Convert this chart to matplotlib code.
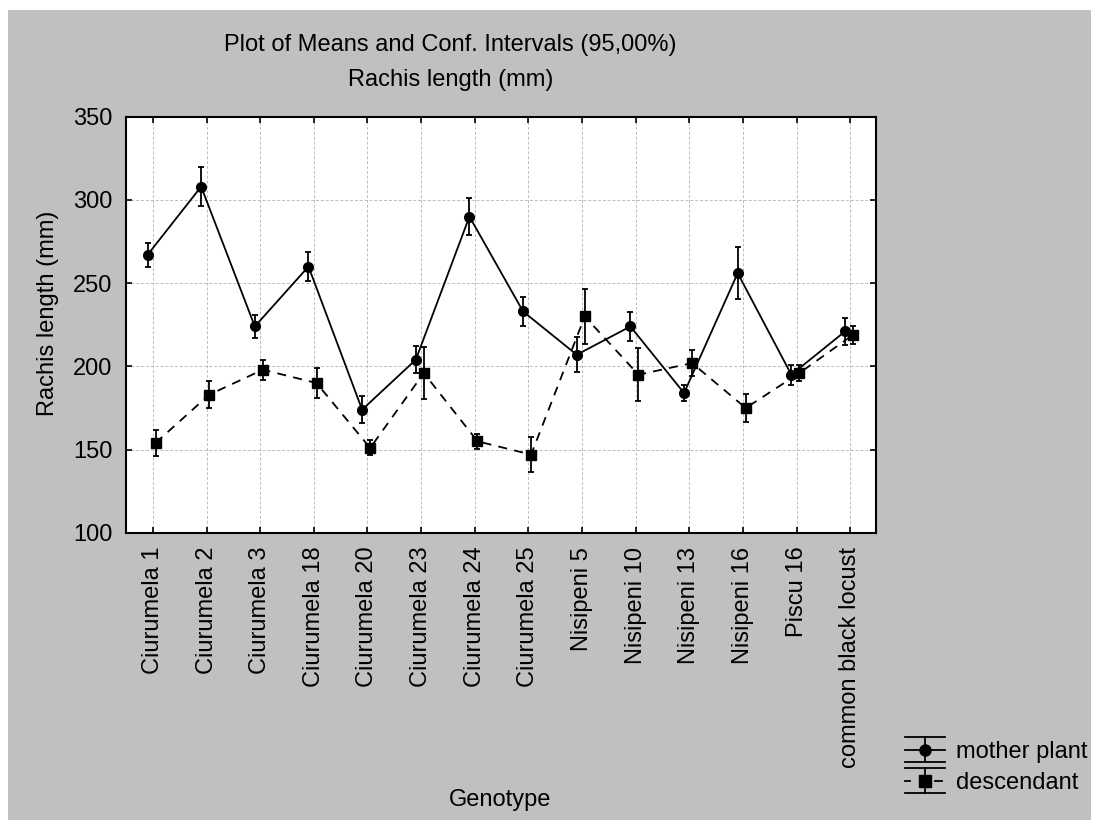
import matplotlib
matplotlib.use('Agg')
import matplotlib.pyplot as plt
import numpy as np
from matplotlib.patches import Rectangle
from matplotlib.lines import Line2D
from matplotlib.legend_handler import HandlerBase

plt.rcParams['font.family'] = ['Liberation Sans', 'DejaVu Sans']
FS = 17

# Genotypes and means with 95% confidence half-widths
genotypes = ['Ciurumela 1', 'Ciurumela 2', 'Ciurumela 3', 'Ciurumela 18', 'Ciurumela 20',
             'Ciurumela 23', 'Ciurumela 24', 'Ciurumela 25', 'Nisipeni 5', 'Nisipeni 10',
             'Nisipeni 13', 'Nisipeni 16', 'Piscu 16', 'common black locust']
mother_mean = [267, 308, 224, 260, 174, 204, 290, 233, 207, 224, 184, 256, 195, 221]
mother_ci = [7, 11.5, 7, 9, 8, 8, 11, 8.5, 10.5, 8.5, 5, 15.5, 6, 8]
desc_mean = [154, 183, 198, 190, 151, 196, 155, 147, 230, 195, 202, 175, 196, 219]
desc_ci = [8, 8, 6, 9, 4.5, 15.5, 4.5, 10.5, 16.5, 16, 8, 8.5, 5, 5.5]


class CapHandler(HandlerBase):
    # legend key: wide caps top and bottom, vertical bar, marker and series line
    def create_artists(self, legend, orig_handle, xdescent, ydescent,
                       width, height, fontsize, trans):
        ls, marker = orig_handle
        x0, x1 = -xdescent, -xdescent + width
        xm = (x0 + x1) / 2
        ym = -ydescent + height / 2
        h = height * 0.6
        arts = [
            Line2D([x0, x1], [ym + h, ym + h], color='black', lw=1.3),
            Line2D([x0, x1], [ym - h, ym - h], color='black', lw=1.3),
            Line2D([xm, xm], [ym - h, ym + h], color='black', lw=1.3),
        ]
        if ls == '-':
            arts.append(Line2D([x0, x1], [ym, ym], color='black', lw=1.3))
        else:
            arts.append(Line2D([x0, x0 + width * 0.12], [ym, ym], color='black', lw=1.3))
            arts.append(Line2D([x1 - width * 0.25, x1 - width * 0.08], [ym, ym], color='black', lw=1.3))
        arts.append(Line2D([xm], [ym], marker=marker, color='black', markersize=8, linestyle='none'))
        for a in arts:
            a.set_transform(trans)
        return arts


fig = plt.figure(figsize=(10.99, 8.30), dpi=100)
fig.patch.set_facecolor('white')
fig.patches.append(Rectangle((8 / 1099, 10 / 830), 1083 / 1099, 810 / 830,
                             transform=fig.transFigure, facecolor='#c0c0c0',
                             edgecolor='none', zorder=-10))

ax = fig.add_axes([0.1147, 0.358, 0.6825, 0.5014])
ax.set_facecolor('white')

x = np.arange(len(genotypes))
ax.errorbar(x - 0.1, mother_mean, yerr=mother_ci, color='black', linestyle='-', linewidth=1.3,
            marker='o', markersize=7, elinewidth=1.3, capsize=2.5, capthick=1.3, zorder=3)
ax.errorbar(x + 0.05, desc_mean, yerr=desc_ci, color='black', linestyle=(0, (5, 4)), linewidth=1.3,
            marker='s', markersize=7.5, elinewidth=1.3, capsize=2.5, capthick=1.3, zorder=3)

ax.set_xlim(-0.5, 13.48)
ax.set_ylim(100, 350)
ax.set_xticks(x)
ax.set_xticklabels(genotypes, rotation=90, fontsize=FS)
ax.set_yticks([100, 150, 200, 250, 300, 350])
ax.tick_params(axis='y', labelsize=FS)
ax.tick_params(direction='in', top=True, right=True, length=4, width=1.2,
               colors='black', pad=10)
ax.grid(True, color='#bcbcbc', linestyle=(0, (3, 2)), linewidth=0.7)
ax.set_axisbelow(True)
for s in ax.spines.values():
    s.set_linewidth(1.5)
    s.set_color('black')

ax.set_ylabel('Rachis length (mm)', fontsize=FS)
ax.yaxis.set_label_coords(-0.089, 0.527)
fig.text(0.455, 1 - 800 / 830, 'Genotype', ha='center', va='center', fontsize=FS)
fig.text(0.41, 1 - 45 / 830, 'Plot of Means and Conf. Intervals (95,00%)',
         ha='center', va='center', fontsize=FS)
fig.text(0.41, 1 - 80 / 830, 'Rachis length (mm)', ha='center', va='center', fontsize=FS)

fig.legend([('-', 'o'), ('--', 's')], ['mother plant', 'descendant'],
           handler_map={tuple: CapHandler()},
           loc='upper left', bbox_to_anchor=(905 / 1099, 1 - 739 / 830), frameon=False,
           fontsize=FS, handlelength=1.7, handleheight=1.0, handletextpad=0.45,
           labelspacing=0.32, borderpad=0, borderaxespad=0)

fig.savefig('out.png', dpi=100, facecolor=fig.get_facecolor())
